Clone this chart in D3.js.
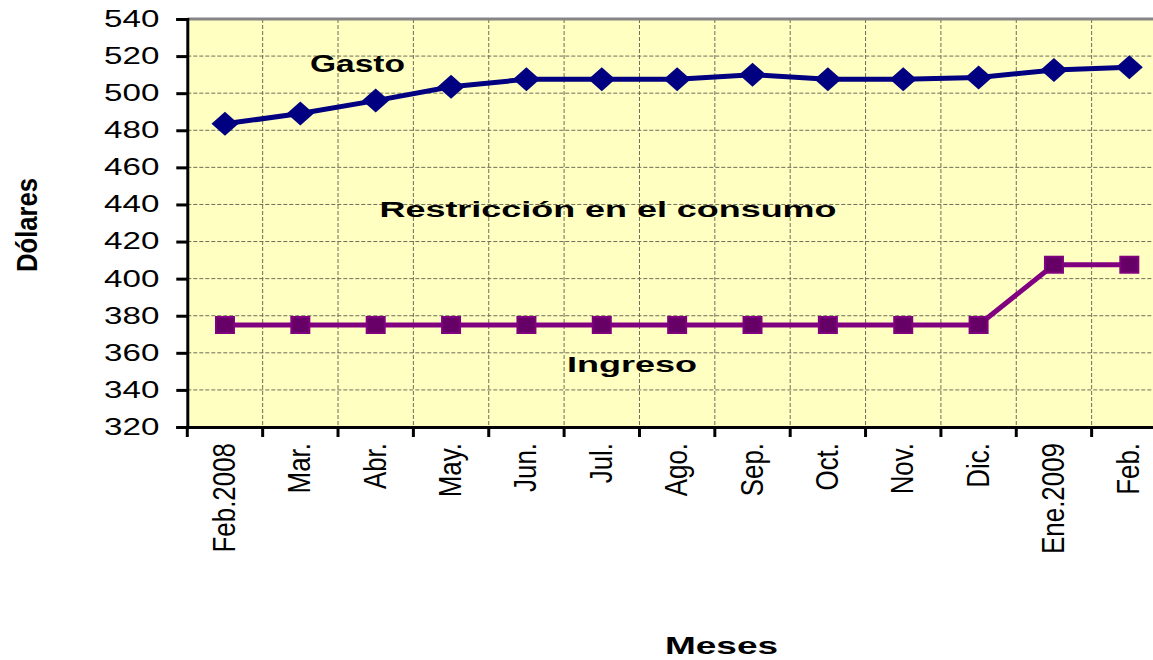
<!DOCTYPE html>
<html>
  <head>
    <meta charset="utf-8">
    <title>Gasto e Ingreso</title>
    <script src="https://cdn.jsdelivr.net/npm/d3@7"></script>
    <style>
      body { margin: 0; background: #fff; }
      text { font-family: "Liberation Sans", Arial, sans-serif; }
    </style>
  </head>
  <body>
    <script>
      // data
      var meses = ["Feb.2008", "Mar.", "Abr.", "May.", "Jun.", "Jul.", "Ago.",
                   "Sep.", "Oct.", "Nov.", "Dic.", "Ene.2009", "Feb."];
      var gasto = [483.5, 489, 496, 503.5, 507.5, 507.5, 507.5, 510, 507.5, 507.5, 508.5, 512.5, 514];
      var ingreso = [375, 375, 375, 375, 375, 375, 375, 375, 375, 375, 375, 407.5, 407.5];
      var yTicks = d3.range(320, 541, 20);

      var width = 1153, height = 660;
      // plot box (right edge goes past the picture, as in the original)
      var pLeft = 187.3, pRight = 1167, pTop = 19, pBottom = 427;

      var svg = d3.select("body").append("svg")
          .attr("width", width)
          .attr("height", height);

      var x = d3.scaleBand().domain(meses).range([pLeft, pRight]).padding(0);
      var y = d3.scaleLinear().domain([320, 540]).range([pBottom, pTop]);

      // plot background
      svg.append("rect")
          .attr("x", pLeft).attr("y", pTop)
          .attr("width", pRight - pLeft).attr("height", pBottom - pTop)
          .attr("fill", "#ffffc2");

      // grid
      svg.append("g").selectAll("line")
          .data(yTicks.slice(1, -1))
          .enter().append("line")
          .attr("x1", pLeft).attr("x2", pRight)
          .attr("y1", function(d) { return y(d); })
          .attr("y2", function(d) { return y(d); })
          .attr("stroke", "#6e6e5a").attr("stroke-width", 1)
          .attr("stroke-dasharray", "4,2");

      svg.append("g").selectAll("line")
          .data(meses.slice(1))
          .enter().append("line")
          .attr("x1", function(d) { return x(d); })
          .attr("x2", function(d) { return x(d); })
          .attr("y1", pTop).attr("y2", pBottom)
          .attr("stroke", "#6e6e5a").attr("stroke-width", 1)
          .attr("stroke-dasharray", "4,2");

      // top border
      svg.append("line")
          .attr("x1", pLeft).attr("x2", pRight)
          .attr("y1", pTop).attr("y2", pTop)
          .attr("stroke", "#858585").attr("stroke-width", 3);

      // y axis
      var yAxis = svg.append("g")
          .attr("transform", "translate(" + pLeft + ",0)")
          .call(d3.axisLeft(y).tickValues(yTicks).tickSize(11).tickPadding(17));
      yAxis.select(".domain").attr("stroke", "#000").attr("stroke-width", 3);
      yAxis.selectAll(".tick line").attr("stroke", "#000").attr("stroke-width", 3);
      yAxis.selectAll("text")
          .attr("font-size", 23)
          .attr("fill", "#000")
          .attr("font-family", "Liberation Sans, Arial, sans-serif")
          .each(function() {
            var w = this.getComputedTextLength();
            d3.select(this).attr("textLength", w * 1.44).attr("lengthAdjust", "spacingAndGlyphs");
          });

      // x axis
      var xAxis = svg.append("g")
          .attr("transform", "translate(0," + pBottom + ")")
          .call(d3.axisBottom(x).tickSize(0).tickFormat(""));
      xAxis.select(".domain").attr("stroke", "#000").attr("stroke-width", 3);
      svg.append("g").selectAll("line")
          .data(meses.concat(["_end"]))
          .enter().append("line")
          .attr("x1", function(d, i) { return pLeft + i * x.bandwidth(); })
          .attr("x2", function(d, i) { return pLeft + i * x.bandwidth(); })
          .attr("y1", pBottom).attr("y2", pBottom + 10)
          .attr("stroke", "#000").attr("stroke-width", 3);

      svg.append("g").selectAll("text")
          .data(meses)
          .enter().append("text")
          .text(function(d) { return d; })
          .attr("font-size", 32)
          .attr("text-anchor", "end")
          .attr("transform", function(d) {
            return "translate(" + (x(d) + x.bandwidth() / 2 + 10) + "," + 443 + ") rotate(-90)";
          })
          .each(function() {
            var w = this.getComputedTextLength();
            d3.select(this).attr("textLength", w * 0.81).attr("lengthAdjust", "spacingAndGlyphs");
          });

      // lines
      var line = d3.line()
          .x(function(d, i) { return x(meses[i]) + x.bandwidth() / 2; })
          .y(function(d) { return y(d); });

      svg.append("path").datum(gasto)
          .attr("d", line)
          .attr("fill", "none").attr("stroke", "#000080").attr("stroke-width", 5);

      svg.append("path").datum(ingreso)
          .attr("d", line)
          .attr("fill", "none").attr("stroke", "#800080").attr("stroke-width", 5);

      // diamonds
      svg.append("g").selectAll("path")
          .data(gasto)
          .enter().append("path")
          .attr("d", "M0,-12 L13.5,0 L0,12 L-13.5,0 Z")
          .attr("transform", function(d, i) {
            return "translate(" + (x(meses[i]) + x.bandwidth() / 2) + "," + y(d) + ")";
          })
          .attr("fill", "#000080");

      // squares
      svg.append("g").selectAll("rect")
          .data(ingreso)
          .enter().append("rect")
          .attr("x", function(d, i) { return x(meses[i]) + x.bandwidth() / 2 - 9; })
          .attr("y", function(d) { return y(d) - 8; })
          .attr("width", 18).attr("height", 16)
          .attr("fill", "#660066")
          .attr("stroke", "#800080").attr("stroke-width", 2);

      // annotations
      function boldLabel(txt, cx, by, size, len) {
        svg.append("text")
            .text(txt)
            .attr("x", cx).attr("y", by)
            .attr("text-anchor", "middle")
            .attr("font-size", size)
            .attr("font-weight", "bold")
            .attr("textLength", len)
            .attr("lengthAdjust", "spacingAndGlyphs");
      }
      boldLabel("Gasto", 357.5, 71.5, 23, 95);
      boldLabel("Restricción en el consumo", 608, 217, 22, 457);
      boldLabel("Ingreso", 632, 372, 22, 130);
      boldLabel("Meses", 721.5, 654, 24, 113);

      svg.append("text")
          .text("Dólares")
          .attr("transform", "translate(37,225) rotate(-90)")
          .attr("text-anchor", "middle")
          .attr("font-size", 30)
          .attr("font-weight", "bold")
          .attr("textLength", 94)
          .attr("lengthAdjust", "spacingAndGlyphs");
    </script>
  </body>
</html>
